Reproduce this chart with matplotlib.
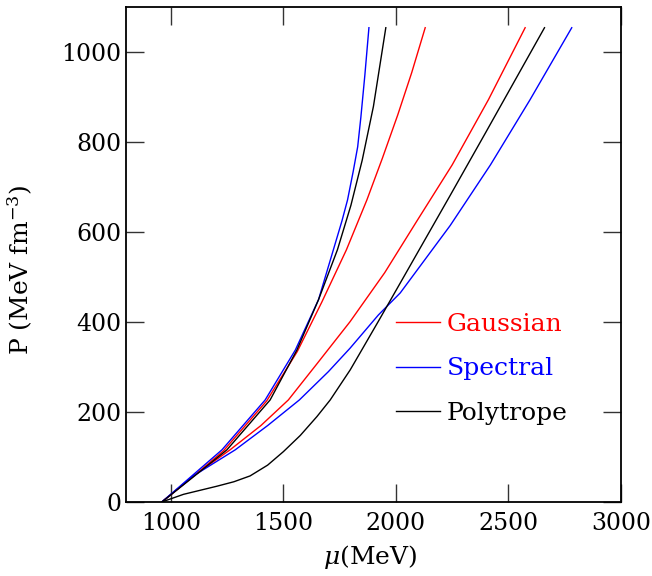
import matplotlib
matplotlib.use("Agg")
import matplotlib.pyplot as plt

plt.rcParams["font.family"] = ["DejaVu Serif"]
plt.rcParams["mathtext.fontset"] = "dejavuserif"

# Gaussian (red), Spectral (blue), Polytrope (black): one stiff and one soft curve each
# chemical potential mu (MeV) and pressure P (MeV fm^-3)
gauss_stiff_mu = [960, 1098, 1234, 1426, 1562, 1671, 1780, 1871, 1940, 2008, 2070, 2130]
gauss_stiff_p = [0, 56, 114, 225, 335, 445, 561, 672, 765, 861, 955, 1055]

gauss_soft_mu = [960, 1100, 1263, 1400, 1522, 1650, 1796, 1950, 2093, 2250, 2411, 2574]
gauss_soft_p = [0, 58, 116, 170, 227, 308, 401, 510, 625, 750, 895, 1055]

spec_stiff_mu = [960, 1098, 1227, 1419, 1553, 1656, 1722, 1760, 1785, 1810, 1830, 1844, 1862, 1880]
spec_stiff_p = [0, 60, 116, 227, 338, 450, 561, 625, 672, 735, 790, 855, 950, 1055]

spec_soft_mu = [960, 1100, 1286, 1430, 1571, 1700, 1796, 1922, 2019, 2241, 2420, 2596, 2781]
spec_soft_p = [0, 58, 116, 170, 227, 290, 342, 416, 465, 615, 750, 895, 1055]

poly_stiff_mu = [960, 1098, 1249, 1441, 1560, 1656, 1740, 1800, 1850, 1900, 1955]
poly_stiff_p = [0, 55, 116, 227, 338, 450, 561, 660, 760, 880, 1055]

poly_soft_mu = [960, 1056, 1204, 1280, 1352, 1430, 1500, 1575, 1649, 1708, 1797, 1848,
                1922, 2019, 2093, 2241, 2400, 2493, 2660]
poly_soft_p = [0, 17, 35, 45, 58, 82, 112, 148, 190, 227, 294, 338,
               402, 487, 552, 682, 823, 906, 1055]

x_ticks = [1000, 1500, 2000, 2500, 3000]
y_ticks = [0, 200, 400, 600, 800, 1000]

fig = plt.figure(figsize=(6.52, 5.76), dpi=100)
ax = fig.add_axes([0.193, 0.1285, 0.7595, 0.8585])

lw = 1.0
ax.plot(gauss_stiff_mu, gauss_stiff_p, color="red", lw=lw, label="Gaussian")
ax.plot(gauss_soft_mu, gauss_soft_p, color="red", lw=lw)
ax.plot(spec_stiff_mu, spec_stiff_p, color="blue", lw=lw, label="Spectral")
ax.plot(spec_soft_mu, spec_soft_p, color="blue", lw=lw)
ax.plot(poly_stiff_mu, poly_stiff_p, color="black", lw=lw, label="Polytrope")
ax.plot(poly_soft_mu, poly_soft_p, color="black", lw=lw)

ax.set_xlim(800, 3000)
ax.set_ylim(0, 1100)
ax.set_xticks(x_ticks)
ax.set_yticks(y_ticks)
ax.tick_params(which="major", direction="in", length=12.7, width=1.0,
               top=True, right=True, labelsize=17, color="#333333")
ax.tick_params(axis="x", pad=7)
ax.tick_params(axis="y", pad=3)
for sp in ax.spines.values():
    sp.set_linewidth(1.3)

ax.set_xlabel(r"$\mu$(MeV)", fontsize=18)
ax.set_ylabel(r"P (MeV fm$^{-3}$)", fontsize=18)
ax.xaxis.set_label_coords(0.494, -0.083)
ax.yaxis.set_label_coords(-0.183, 0.47)

ax.legend(loc="upper left", bbox_to_anchor=(0.546, 0.383), frameon=False,
          fontsize=18, labelcolor="linecolor", handlelength=1.76,
          handletextpad=0.27, labelspacing=0.87, borderpad=0, borderaxespad=0)

fig.savefig("out.png", dpi=100)
